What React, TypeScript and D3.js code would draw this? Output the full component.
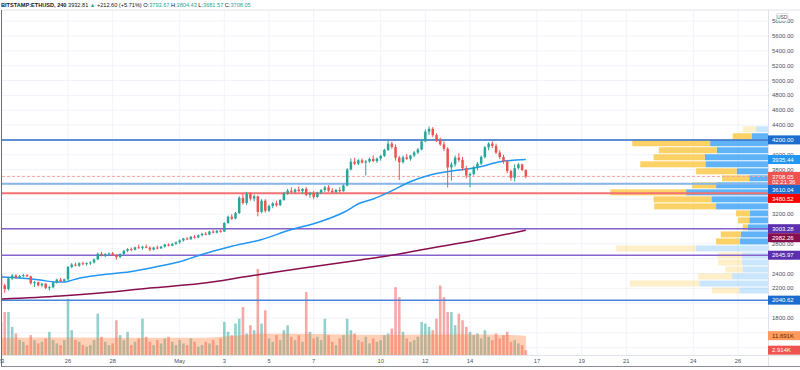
import React, { useEffect, useRef } from 'react';
import * as d3 from 'd3';

type Bar = [number, number, number, number]; // open, high, low, close

// 4h bars, BITSTAMP:ETHUSD, starting 23 Apr 2021 00:00 UTC
const ohlc: Bar[] = [
  [2390, 2420, 2220, 2240], [2240, 2260, 2140, 2190], [2190, 2350, 2170, 2335], [2335, 2395, 2310, 2372],
  [2372, 2390, 2330, 2345], [2345, 2380, 2330, 2365], [2365, 2395, 2350, 2378], [2378, 2392, 2355, 2362],
  [2362, 2370, 2250, 2268], [2268, 2300, 2220, 2282], [2282, 2290, 2225, 2240], [2240, 2275, 2215, 2262],
  [2262, 2270, 2190, 2205], [2205, 2230, 2170, 2215], [2215, 2290, 2200, 2278], [2278, 2330, 2265, 2318],
  [2318, 2340, 2285, 2300], [2300, 2330, 2280, 2322], [2322, 2500, 2310, 2488], [2488, 2540, 2470, 2520],
  [2520, 2545, 2495, 2505], [2505, 2550, 2490, 2538], [2538, 2560, 2510, 2530], [2530, 2550, 2505, 2540],
  [2540, 2565, 2515, 2548], [2548, 2600, 2535, 2590], [2590, 2680, 2580, 2665], [2665, 2690, 2630, 2648],
  [2648, 2675, 2620, 2660], [2660, 2680, 2640, 2672], [2672, 2690, 2640, 2650], [2650, 2660, 2585, 2620],
  [2620, 2670, 2610, 2662], [2662, 2720, 2650, 2705], [2705, 2740, 2690, 2728], [2728, 2750, 2700, 2720],
  [2720, 2760, 2710, 2752], [2752, 2790, 2735, 2745], [2745, 2770, 2720, 2760], [2760, 2790, 2740, 2748],
  [2748, 2765, 2700, 2722], [2722, 2760, 2710, 2750], [2750, 2775, 2725, 2738], [2738, 2770, 2730, 2762],
  [2762, 2800, 2750, 2790], [2790, 2805, 2765, 2775], [2775, 2810, 2770, 2800], [2800, 2830, 2785, 2820],
  [2820, 2860, 2800, 2845], [2845, 2880, 2830, 2872], [2872, 2890, 2850, 2860], [2860, 2905, 2855, 2895],
  [2895, 2920, 2870, 2885], [2885, 2925, 2875, 2915], [2915, 2950, 2900, 2935], [2935, 2960, 2915, 2925],
  [2925, 2975, 2920, 2965], [2965, 2990, 2940, 2950], [2950, 2985, 2940, 2975], [2975, 2995, 2950, 2965],
  [2965, 3090, 2960, 3080], [3080, 3180, 3070, 3165], [3165, 3200, 3120, 3140], [3140, 3230, 3130, 3215],
  [3215, 3440, 3200, 3420], [3420, 3480, 3330, 3350], [3350, 3500, 3320, 3470], [3470, 3490, 3380, 3410],
  [3410, 3460, 3370, 3440], [3440, 3450, 3170, 3230], [3230, 3400, 3210, 3380], [3380, 3400, 3220, 3245],
  [3245, 3330, 3230, 3310], [3310, 3360, 3280, 3345], [3345, 3380, 3300, 3320], [3320, 3400, 3310, 3390],
  [3390, 3500, 3380, 3480], [3480, 3540, 3460, 3515], [3515, 3560, 3480, 3500], [3500, 3545, 3470, 3530],
  [3530, 3570, 3500, 3510], [3510, 3550, 3480, 3540], [3540, 3565, 3440, 3460], [3460, 3500, 3420, 3485],
  [3485, 3510, 3400, 3430], [3430, 3500, 3420, 3490], [3490, 3540, 3470, 3525], [3525, 3580, 3500, 3560],
  [3560, 3590, 3500, 3515], [3515, 3550, 3480, 3495], [3495, 3540, 3480, 3525], [3525, 3560, 3490, 3510],
  [3510, 3600, 3500, 3585], [3585, 3820, 3575, 3800], [3800, 3950, 3790, 3905], [3905, 3960, 3860, 3880],
  [3880, 3940, 3860, 3925], [3925, 3950, 3880, 3895], [3895, 3930, 3720, 3910], [3910, 3960, 3890, 3945],
  [3945, 3990, 3900, 3915], [3915, 3960, 3890, 3950], [3950, 4000, 3920, 3985], [3985, 4080, 3970, 4065],
  [4065, 4200, 4050, 4150], [4150, 4175, 4080, 4105], [4105, 4140, 3920, 3960], [3960, 3985, 3660, 3900],
  [3900, 3990, 3880, 3965], [3965, 4010, 3930, 3945], [3945, 4000, 3920, 3990], [3990, 4050, 3970, 4030],
  [4030, 4090, 4010, 4070], [4070, 4200, 4060, 4180], [4180, 4340, 4170, 4310], [4310, 4380, 4270, 4350],
  [4350, 4372, 4240, 4265], [4265, 4290, 4170, 4190], [4190, 4230, 4120, 4140], [4140, 4180, 4050, 4080],
  [4080, 4100, 3560, 3830], [3830, 3900, 3650, 3870], [3870, 3990, 3840, 3960], [3960, 4020, 3900, 3930],
  [3930, 3970, 3790, 3820], [3820, 3850, 3680, 3720], [3720, 3760, 3560, 3740], [3740, 3850, 3720, 3830],
  [3830, 3900, 3790, 3880], [3880, 3990, 3860, 3970], [3970, 4120, 3950, 4100], [4100, 4170, 4060, 4150],
  [4150, 4180, 4090, 4120], [4120, 4150, 4010, 4030], [4030, 4060, 3940, 3970], [3970, 4000, 3880, 3910],
  [3910, 3930, 3750, 3780], [3780, 3800, 3650, 3690], [3690, 3870, 3640, 3820], [3820, 3890, 3800, 3870],
  [3870, 3880, 3780, 3793.67], [3793.67, 3804.43, 3681.57, 3708.05],
];

// volume per bar, thousands
const volumes = [
  20, 26, 26, 17, 13, 9, 8, 6, 12, 9, 7, 8, 10, 14, 9, 7, 6, 9, 34, 15,
  9, 8, 6, 5, 6, 9, 25, 11, 8, 6, 7, 21, 12, 9, 14, 6, 8, 10, 22, 11,
  8, 6, 9, 7, 10, 11, 8, 6, 9, 7, 6, 10, 8, 5, 6, 8, 7, 9, 6, 10,
  20, 14, 12, 19, 22, 29, 13, 18, 15, 52, 19, 27, 10, 8, 12, 9, 15, 18, 11, 9,
  12, 8, 38, 14, 10, 11, 9, 22, 12, 8, 6, 10, 12, 22, 15, 13, 9, 8, 11, 7,
  10, 8, 9, 12, 13, 16, 41, 35, 14, 10, 8, 9, 11, 20, 19, 17, 15, 22, 42, 35,
  26, 26, 18, 25, 21, 17, 14, 12, 13, 10, 15, 11, 9, 13, 10, 12, 14, 8, 9, 7,
  6, 2.914,
];

// moving averages: [bar index, value]
const ma50: [number, number][] = [
  [0, 2352], [5, 2339], [10.5, 2312], [14.5, 2285], [17.2, 2285], [18.5, 2302], [21.2, 2339],
  [26.6, 2379], [34.7, 2423], [44, 2514], [48, 2558], [53.5, 2649], [61.5, 2760], [69.6, 2851],
  [77.6, 2985], [85.7, 3097], [92.4, 3232], [96.5, 3349], [100, 3403], [104.5, 3502], [109.9, 3636],
  [115.3, 3727], [119.3, 3767], [123.3, 3794], [128.7, 3839], [134, 3906], [141, 3935.44],
];
const ma200: [number, number][] = [
  [0, 2055], [15.9, 2096], [26.6, 2136], [40, 2204], [53.5, 2264], [66.9, 2366], [80.3, 2467],
  [96.5, 2581], [104.5, 2642], [112.6, 2716], [128.7, 2857], [141, 2982.26],
];
const volumeMa: [number, number][] = [
  [0, 10.5], [20, 10.6], [40, 10.4], [55, 10.5], [62, 11.5], [70, 12.8], [85, 12.7],
  [100, 12.2], [115, 12.4], [125, 12.6], [141, 11.691],
];

// visible range volume profile, rows from top (high price) down
const vpHigh = 4391;
const vpStep = 94.5;
const vpUp = [18, 24, 87, 77, 95, 94, 47, 28, 78, 123, 85, 78, 27, 28, 30, 41, 42, 108, 39, 39, 38, 54, 103, 43];
const vpDown = [20, 29, 117, 87, 77, 98, 61, 41, 36, 114, 87, 93, 21, 17, 8, 30, 36, 120, 37, 36, 26, 51, 105, 41];
const vpValueArea = [1, 16];

const levels = [
  { price: 4200.0, color: '#2c6cc4', width: 1.5, bg: '#1c6cd0' },
  { price: 3610.04, color: '#86b6ec', width: 2, bg: '#1c6cd0' },
  { price: 3480.52, color: '#f27272', width: 2, bg: '#ff0000' },
  { price: 3003.28, color: '#8662cf', width: 1.5, bg: '#5b2fb0' },
  { price: 2645.97, color: '#8662cf', width: 1.5, bg: '#5b2fb0' },
  { price: 2040.62, color: '#4a86d8', width: 1.5, bg: '#1c6cd0' },
];

const priceTicks = [1400, 1600, 1800, 2000, 2200, 2400, 2600, 2800, 3000, 3200, 3400, 3600, 3800,
  4000, 4200, 4400, 4600, 4800, 5000, 5200, 5400, 5600, 5800];

const dayTicks: [string, string][] = [
  ['2021-04-23', '23'], ['2021-04-26', '26'], ['2021-04-28', '28'], ['2021-05-01', 'May'],
  ['2021-05-03', '3'], ['2021-05-05', '5'], ['2021-05-07', '7'], ['2021-05-10', '10'],
  ['2021-05-12', '12'], ['2021-05-14', '14'], ['2021-05-17', '17'], ['2021-05-19', '19'],
  ['2021-05-21', '21'], ['2021-05-24', '24'], ['2021-05-26', '26'],
];

const GREEN = '#26a69a';
const RED = '#ef5350';
const FONT = '"Liberation Sans", Arial, sans-serif';

export default function App() {
  const svgRef = useRef<SVGSVGElement>(null);

  useEffect(() => {
    if (!svgRef.current) return;
    const svg = d3.select(svgRef.current);
    svg.selectAll('*').remove();

    const plot = { left: 2, right: 768, top: 10, bottom: 355 };
    const t0 = Date.UTC(2021, 3, 23);
    const barTime = (i: number) => new Date(t0 + i * 4 * 3600e3);

    const x = d3.scaleUtc()
      .domain([new Date(t0), new Date(Date.UTC(2021, 4, 26))])
      .range([1, 738]);
    const y = d3.scaleLinear().domain([1800, 5600]).range([318, 36]);
    const yVol = d3.scaleLinear().domain([0, 52]).range([plot.bottom, 269]);
    const xi = (i: number) => x(barTime(i));

    svg.append('rect').attr('width', 800).attr('height', 370).attr('fill', '#fff');

    svg.append('defs').append('clipPath').attr('id', 'plotClip')
      .append('rect')
      .attr('x', plot.left).attr('y', plot.top)
      .attr('width', plot.right - plot.left).attr('height', plot.bottom - plot.top);

    const g = svg.append('g').attr('clip-path', 'url(#plotClip)');

    // grid
    g.selectAll('line.hgrid').data(priceTicks).enter().append('line')
      .attr('x1', plot.left).attr('x2', plot.right)
      .attr('y1', d => y(d)).attr('y2', d => y(d))
      .attr('stroke', '#f0f3fa').attr('stroke-width', 1);
    g.selectAll('line.vgrid').data(dayTicks).enter().append('line')
      .attr('x1', d => x(new Date(d[0] + 'T00:00:00Z'))).attr('x2', d => x(new Date(d[0] + 'T00:00:00Z')))
      .attr('y1', plot.top).attr('y2', plot.bottom)
      .attr('stroke', '#f0f3fa').attr('stroke-width', 1);

    // volume bars
    g.selectAll('rect.vol').data(volumes).enter().append('rect')
      .attr('x', (d, i) => xi(i) - 1.3)
      .attr('width', 2.6)
      .attr('y', d => yVol(d))
      .attr('height', d => plot.bottom - yVol(d))
      .attr('fill', (d, i) => ohlc[i][3] >= ohlc[i][0] ? 'rgba(38,166,154,0.5)' : 'rgba(239,83,80,0.5)');

    // volume moving average area
    const volArea = d3.area<[number, number]>()
      .x(d => xi(d[0]))
      .y0(plot.bottom)
      .y1(d => yVol(d[1]))
      .curve(d3.curveMonotoneX);
    g.append('path').datum(volumeMa).attr('d', volArea)
      .attr('fill', 'rgba(255,128,64,0.38)');

    // volume profile
    const vpTotal = d3.max(vpUp.map((u, i) => u + vpDown[i])) as number;
    const vpW = d3.scaleLinear().domain([0, vpTotal]).range([0, 157.7]);
    const vpRows = vpUp.map((u, i) => ({
      u, d: vpDown[i], i,
      top: y(vpHigh - i * vpStep),
      bottom: y(vpHigh - (i + 1) * vpStep),
      inVa: i >= vpValueArea[0] && i <= vpValueArea[1],
    }));
    const vpg = g.append('g');
    vpg.selectAll('rect.up').data(vpRows).enter().append('rect')
      .attr('x', d => plot.right - vpW(d.u))
      .attr('width', d => vpW(d.u))
      .attr('y', d => d.top + 0.5)
      .attr('height', d => d.bottom - d.top - 1)
      .attr('fill', d => d.inVa ? 'rgba(33,150,243,0.72)' : 'rgba(33,150,243,0.24)');
    vpg.selectAll('rect.down').data(vpRows).enter().append('rect')
      .attr('x', d => plot.right - vpW(d.u) - vpW(d.d))
      .attr('width', d => vpW(d.d))
      .attr('y', d => d.top + 0.5)
      .attr('height', d => d.bottom - d.top - 1)
      .attr('fill', d => d.inVa ? 'rgba(251,192,45,0.72)' : 'rgba(251,192,45,0.26)');

    // horizontal levels
    g.selectAll('line.level').data(levels).enter().append('line')
      .attr('x1', plot.left).attr('x2', plot.right)
      .attr('y1', d => y(d.price)).attr('y2', d => y(d.price))
      .attr('stroke', d => d.color).attr('stroke-width', d => d.width);

    // last price line
    const last = ohlc[ohlc.length - 1];
    g.append('line')
      .attr('x1', plot.left).attr('x2', plot.right)
      .attr('y1', y(last[3])).attr('y2', y(last[3]))
      .attr('stroke', '#f5a3a3').attr('stroke-width', 1).attr('stroke-dasharray', '3,2');

    // moving averages
    const maLine = d3.line<[number, number]>()
      .x(d => xi(d[0])).y(d => y(d[1])).curve(d3.curveMonotoneX);
    g.append('path').datum(ma200).attr('d', maLine)
      .attr('fill', 'none').attr('stroke', '#880e4f').attr('stroke-width', 1.5);
    g.append('path').datum(ma50).attr('d', maLine)
      .attr('fill', 'none').attr('stroke', '#2196f3').attr('stroke-width', 1.5);

    // candles
    const candle = g.selectAll('g.candle').data(ohlc).enter().append('g');
    candle.append('line')
      .attr('x1', (d, i) => xi(i)).attr('x2', (d, i) => xi(i))
      .attr('y1', d => y(d[1])).attr('y2', d => y(d[2]))
      .attr('stroke', d => d[3] >= d[0] ? GREEN : RED).attr('stroke-width', 1);
    candle.append('rect')
      .attr('x', (d, i) => xi(i) - 1.25)
      .attr('width', 2.5)
      .attr('y', d => y(Math.max(d[0], d[3])))
      .attr('height', d => Math.max(1, Math.abs(y(d[0]) - y(d[3]))))
      .attr('fill', d => d[3] >= d[0] ? GREEN : RED);

    // frame
    svg.append('line').attr('x1', plot.left).attr('x2', 800).attr('y1', plot.top).attr('y2', plot.top)
      .attr('stroke', '#e0e3eb');
    svg.append('line').attr('x1', plot.left).attr('x2', 800).attr('y1', plot.bottom + 0.5).attr('y2', plot.bottom + 0.5)
      .attr('stroke', '#e0e3eb');
    svg.append('line').attr('x1', plot.right + 0.5).attr('x2', plot.right + 0.5).attr('y1', plot.top).attr('y2', 367)
      .attr('stroke', '#e0e3eb');
    svg.append('line').attr('x1', 1.5).attr('x2', 1.5).attr('y1', plot.top).attr('y2', 367)
      .attr('stroke', '#6a6d78');
    svg.append('line').attr('x1', 1).attr('x2', 800).attr('y1', 366.5).attr('y2', 366.5)
      .attr('stroke', '#8a8d96');

    // axis labels on the right
    type Lbl = { y: number; bg: string; fg: string; lines: string[] };
    const lbls: Lbl[] = [
      ...levels.map(l => ({ y: y(l.price), bg: l.bg, fg: '#fff', lines: [l.price.toFixed(2)] })),
      { y: y(3935.44), bg: '#2196f3', fg: '#fff', lines: ['3935.44'] },
      { y: y(2982.26), bg: '#880e4f', fg: '#fff', lines: ['2982.26'] },
      { y: y(last[3]), bg: RED, fg: '#fff', lines: [last[3].toFixed(2), '02:21:36'] },
      { y: yVol(11.691), bg: '#ff9a5c', fg: '#5a2500', lines: ['11.691K'] },
      { y: yVol(2.914), bg: RED, fg: '#fff', lines: ['2.914K'] },
    ].sort((a, b) => a.y - b.y);

    let prevBottom = -Infinity;
    const placed = lbls.map(l => {
      const h = l.lines.length > 1 ? 13 : 9;
      const top = Math.max(l.y - 4.5, prevBottom);
      prevBottom = top + h;
      return { ...l, top, h };
    });

    // price tick labels, hidden where a label box covers them
    const overlap = (p: number) => d3.max(placed, l =>
      Math.min(y(p) + 3, l.top + l.h) - Math.max(y(p) - 3, l.top)) as number;
    const axisG = svg.append('g').style('font-family', FONT).style('font-size', '6px');
    priceTicks.filter(p => y(p) > 14 && overlap(p) < 3)
      .forEach(p => {
        axisG.append('text')
          .attr('x', 772).attr('y', y(p) + 2.1)
          .attr('fill', '#4c525e')
          .text(p.toFixed(2));
      });

    placed.forEach(l => {
      axisG.append('rect')
        .attr('x', 768).attr('y', l.top).attr('width', 32).attr('height', l.h)
        .attr('fill', l.bg);
      l.lines.forEach((t, k) => {
        axisG.append('text')
          .attr('x', 772).attr('y', l.top + 6.6 + k * 5.6)
          .attr('fill', l.fg)
          .text(t);
      });
    });

    // currency box
    svg.append('rect').attr('x', 776.5).attr('y', 13.5).attr('width', 11.5).attr('height', 7.5)
      .attr('fill', '#fff').attr('stroke', '#c8cbd3').attr('stroke-width', 0.6).attr('rx', 1);
    svg.append('text').attr('x', 782.2).attr('y', 19.2).attr('text-anchor', 'middle')
      .style('font-family', FONT).style('font-size', '5px').attr('fill', '#4c525e').text('USD');

    // time axis
    svg.append('g').style('font-family', FONT).style('font-size', '5.8px')
      .selectAll('text').data(dayTicks).enter().append('text')
      .attr('x', d => x(new Date(d[0] + 'T00:00:00Z')))
      .attr('y', 362.8)
      .attr('text-anchor', 'middle')
      .attr('fill', '#4c525e')
      .text(d => d[1]);

    // header legend
    const hdr = svg.append('text').attr('x', 1).attr('y', 7.2)
      .style('font-family', FONT).style('font-size', '5.6px').attr('fill', '#131722');
    hdr.append('tspan').style('font-weight', 'bold').text('BITSTAMP:ETHUSD, 240');
    hdr.append('tspan').text(' 3932.81 ');
    hdr.append('tspan').attr('fill', GREEN).text('▲');
    hdr.append('tspan').text(' +212.60 (+5.71%) O:');
    hdr.append('tspan').attr('fill', GREEN).text(last[0].toFixed(2));
    hdr.append('tspan').text(' H:');
    hdr.append('tspan').attr('fill', GREEN).text(last[1].toFixed(2));
    hdr.append('tspan').text(' L:');
    hdr.append('tspan').attr('fill', GREEN).text(last[2].toFixed(2));
    hdr.append('tspan').text(' C:');
    hdr.append('tspan').attr('fill', GREEN).text(last[3].toFixed(2));
  }, []);

  return (
    <svg
      ref={svgRef}
      width={800}
      height={370}
      style={{ position: 'absolute', left: 0, top: 0, display: 'block' }}
    />
  );
}
